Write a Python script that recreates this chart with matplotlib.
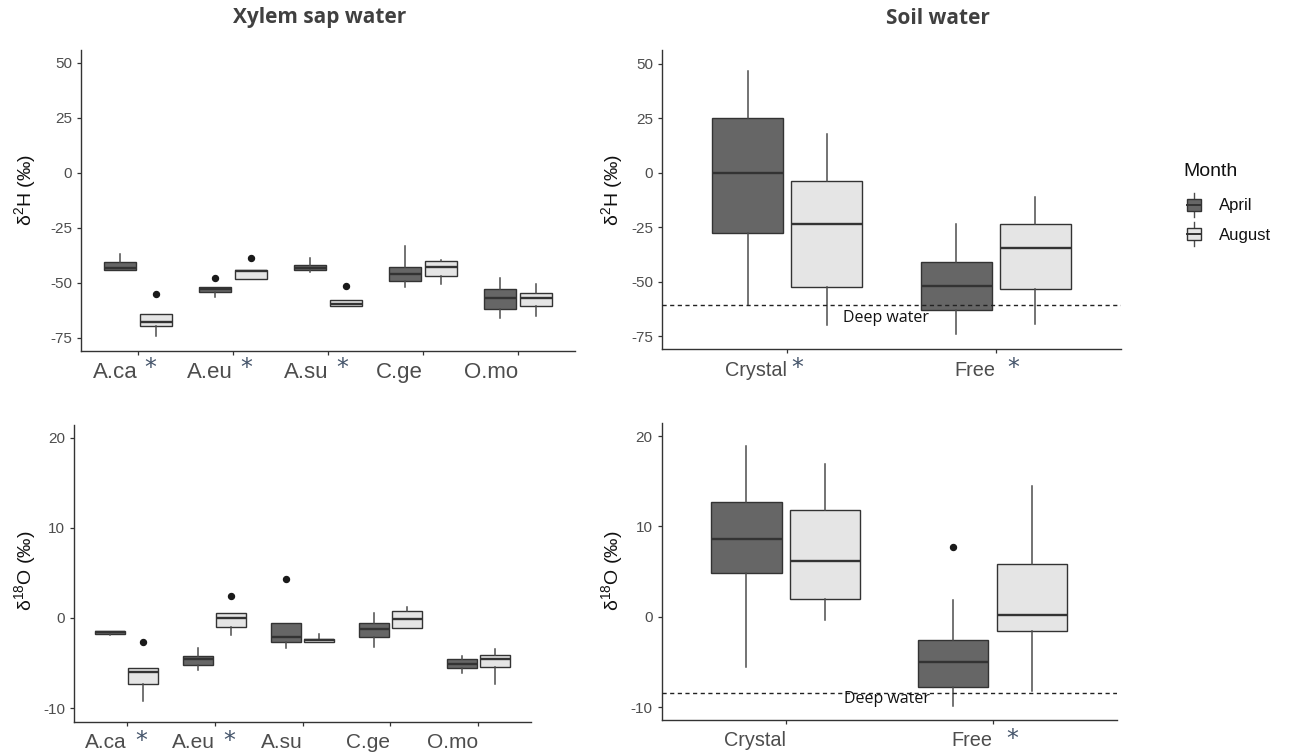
import numpy as np
import matplotlib
matplotlib.use('Agg')
import matplotlib.pyplot as plt
from matplotlib.legend_handler import HandlerBase
from matplotlib.patches import Rectangle, Patch
from matplotlib.lines import Line2D

plt.rcParams['font.family'] = ['Liberation Sans', 'DejaVu Sans']
plt.rcParams['mathtext.fontset'] = 'custom'
plt.rcParams['mathtext.rm'] = 'Liberation Sans'
plt.rcParams['mathtext.it'] = 'Liberation Sans:italic'
plt.rcParams['mathtext.bf'] = 'Liberation Sans:bold'

# ---------------- data ----------------
species = ['A.ca', 'A.eu', 'A.su', 'C.ge', 'O.mo']
sites = ['Crystal', 'Free']
months = ['April', 'August']

# Xylem sap water, d2H
xyl_H_apr_med = [-43.5, -53.0, -43.2, -46.2, -57.0]
xyl_H_apr_q1 = [-44.4, -54.2, -44.4, -49.1, -62.1]
xyl_H_apr_q3 = [-40.5, -51.8, -42.1, -42.7, -53.0]
xyl_H_apr_lo = [-44.4, -56.5, -45.2, -52.1, -66.0]
xyl_H_apr_hi = [-36.8, -51.8, -38.9, -33.5, -48.0]
xyl_H_apr_out = [[], [-47.6], [], [], []]

xyl_H_aug_med = [-67.9, -44.5, -59.5, -43.0, -57.0]
xyl_H_aug_q1 = [-69.8, -48.2, -60.6, -47.1, -60.6]
xyl_H_aug_q3 = [-64.4, -44.2, -57.6, -40.0, -54.5]
xyl_H_aug_lo = [-74.2, -48.2, -60.6, -50.6, -65.2]
xyl_H_aug_hi = [-64.4, -44.2, -57.6, -39.5, -50.6]
xyl_H_aug_out = [[-55.3], [-38.9], [-51.5], [], []]

# Xylem sap water, d18O
xyl_O_apr_med = [-1.55, -4.58, -2.14, -1.25, -5.06]
xyl_O_apr_q1 = [-1.73, -5.24, -2.62, -2.10, -5.57]
xyl_O_apr_q3 = [-1.40, -4.17, -0.52, -0.55, -4.58]
xyl_O_apr_lo = [-1.90, -5.76, -3.32, -3.17, -6.05]
xyl_O_apr_hi = [-1.40, -3.28, -0.52, 0.52, -4.17]
xyl_O_apr_out = [[], [], [4.28], [], []]

xyl_O_aug_med = [-6.00, -0.04, -2.47, -0.07, -4.58]
xyl_O_aug_q1 = [-7.31, -0.96, -2.62, -1.07, -5.46]
xyl_O_aug_q3 = [-5.57, 0.52, -2.36, 0.77, -4.13]
xyl_O_aug_lo = [-9.26, -1.88, -2.62, -1.07, -7.31]
xyl_O_aug_hi = [-5.57, 0.52, -1.81, 1.18, -3.47]
xyl_O_aug_out = [[-2.62], [2.44], [], [], []]

# Soil water, d2H
soil_H_apr_med = [-0.2, -51.8]
soil_H_apr_q1 = [-27.7, -62.9]
soil_H_apr_q3 = [25.0, -41.0]
soil_H_apr_lo = [-60.6, -74.3]
soil_H_apr_hi = [46.7, -23.6]
soil_H_apr_out = [[], []]

soil_H_aug_med = [-23.4, -34.5]
soil_H_aug_q1 = [-52.5, -53.6]
soil_H_aug_q3 = [-3.8, -23.7]
soil_H_aug_lo = [-69.8, -69.5]
soil_H_aug_hi = [17.9, -11.2]
soil_H_aug_out = [[], []]

# Soil water, d18O
soil_O_apr_med = [8.56, -5.02]
soil_O_apr_q1 = [4.83, -7.82]
soil_O_apr_q3 = [12.66, -2.58]
soil_O_apr_lo = [-5.61, -9.89]
soil_O_apr_hi = [18.93, 1.85]
soil_O_apr_out = [[], [7.68]]

soil_O_aug_med = [6.20, 0.18]
soil_O_aug_q1 = [1.96, -1.55]
soil_O_aug_q3 = [11.88, 5.83]
soil_O_aug_lo = [-0.37, -8.19]
soil_O_aug_hi = [16.97, 14.46]
soil_O_aug_out = [[], []]

deep_water_H = -60.6
deep_water_O = -8.45

H_ticks = [-75, -50, -25, 0, 25, 50]
O_ticks = [-10, 0, 10, 20]

# significance stars per panel (category index)
stars_xyl_H = [0, 1, 2]
stars_xyl_O = [0, 1]
stars_soil_H = [0, 1]
stars_soil_O = [1]

# ---------------- style ----------------
APR = '#666666'
AUG = '#e5e5e5'
EDGE = '#333333'
WHISK = '#4d4d4d'
STAR = '#44546a'
TICKC = '#4d4d4d'

W, H = 1290, 754
fig = plt.figure(figsize=(W / 100, H / 100), dpi=100)


def add_ax(l, t, r, b):
    return fig.add_axes([l / W, 1 - b / H, (r - l) / W, (b - t) / H])


def mkstats(med, q1, q3, lo, hi, out):
    return [dict(med=m, q1=a, q3=b, whislo=c, whishi=d, fliers=f)
            for m, a, b, c, d, f in zip(med, q1, q3, lo, hi, out)]


def draw(ax, cats, apr, aug, ylim, yticks, stars, star_dx, xsize, star_dy):
    pos = np.arange(1, len(cats) + 1)
    for st, off, fc in ((apr, -0.19, APR), (aug, 0.19, AUG)):
        ax.bxp(st, positions=pos + off, widths=0.34, patch_artist=True,
               showcaps=False, manage_ticks=False,
               boxprops=dict(facecolor=fc, edgecolor=EDGE, linewidth=1.0),
               medianprops=dict(color=EDGE, linewidth=1.7),
               whiskerprops=dict(color=WHISK, linewidth=1.1),
               flierprops=dict(marker='o', markerfacecolor='#1a1a1a',
                               markeredgecolor='#1a1a1a', markersize=4.3))
    ax.set_xlim(0.4, len(cats) + 0.6)
    ax.set_ylim(*ylim)
    ax.set_yticks(yticks)
    ax.set_yticklabels([str(t) for t in yticks])
    ax.set_xticks(pos)
    ax.set_xticklabels(cats, ha='right')
    for s in ('top', 'right'):
        ax.spines[s].set_visible(False)
    for s in ('left', 'bottom'):
        ax.spines[s].set_color(EDGE)
        ax.spines[s].set_linewidth(1.0)
    ax.tick_params(axis='both', direction='out', length=2.9, width=0.9,
                   color=EDGE, labelcolor=TICKC)
    ax.tick_params(axis='y', labelsize=11, pad=3.6)
    ax.tick_params(axis='x', labelsize=xsize, pad=5.2)
    for i, dx in zip(stars, star_dx):
        ax.annotate('*', xy=(pos[i], 0), xycoords=('data', 'axes fraction'),
                    xytext=(dx * 0.72, -star_dy * 0.72), textcoords='offset points',
                    ha='center', va='baseline', color=STAR, fontsize=17,
                    family='DejaVu Sans')


ax1 = add_ax(81, 50, 575, 351)
draw(ax1, species,
     mkstats(xyl_H_apr_med, xyl_H_apr_q1, xyl_H_apr_q3, xyl_H_apr_lo, xyl_H_apr_hi, xyl_H_apr_out),
     mkstats(xyl_H_aug_med, xyl_H_aug_q1, xyl_H_aug_q3, xyl_H_aug_lo, xyl_H_aug_hi, xyl_H_aug_out),
     (-81, 55.8), H_ticks, stars_xyl_H, [12.3, 13.5, 14.0], 16, 24)

ax2 = add_ax(74, 425, 531, 721.7)
draw(ax2, species,
     mkstats(xyl_O_apr_med, xyl_O_apr_q1, xyl_O_apr_q3, xyl_O_apr_lo, xyl_O_apr_hi, xyl_O_apr_out),
     mkstats(xyl_O_aug_med, xyl_O_aug_q1, xyl_O_aug_q3, xyl_O_aug_lo, xyl_O_aug_hi, xyl_O_aug_out),
     (-11.5, 21.4), O_ticks, stars_xyl_O, [14.3, 14.4], 15, 26)

ax3 = add_ax(662, 50, 1121, 349.3)
draw(ax3, sites,
     mkstats(soil_H_apr_med, soil_H_apr_q1, soil_H_apr_q3, soil_H_apr_lo, soil_H_apr_hi, soil_H_apr_out),
     mkstats(soil_H_aug_med, soil_H_aug_q1, soil_H_aug_q3, soil_H_aug_lo, soil_H_aug_hi, soil_H_aug_out),
     (-81.1, 56.4), H_ticks, stars_soil_H, [10.3, 17.0], 14.3, 26)
ax3.axhline(deep_water_H, color='#222222', linestyle=(0, (3, 2.5)), linewidth=1.0, zorder=5)
ax3.text(1.475, -66.5, 'Deep water', ha='center', va='center', fontsize=11.5,
         family='Open Sans', color='#111111', zorder=6)

ax4 = add_ax(661.7, 422.7, 1116.7, 720)
draw(ax4, sites,
     mkstats(soil_O_apr_med, soil_O_apr_q1, soil_O_apr_q3, soil_O_apr_lo, soil_O_apr_hi, soil_O_apr_out),
     mkstats(soil_O_aug_med, soil_O_aug_q1, soil_O_aug_q3, soil_O_aug_lo, soil_O_aug_hi, soil_O_aug_out),
     (-11.44, 21.5), O_ticks, stars_soil_O, [20.0], 14.3, 26)
ax4.axhline(deep_water_O, color='#222222', linestyle=(0, (3, 2.5)), linewidth=1.0, zorder=5)
ax4.text(1.487, -9.15, 'Deep water', ha='center', va='center', fontsize=11.5,
         family='Open Sans', color='#111111', zorder=6)

# y labels
lab_H = 'δ$^{2}$H (‰)'
lab_O = 'δ$^{18}$O (‰)'
for (x, y, s) in ((25, 190, lab_H), (25, 571, lab_O), (612, 190, lab_H), (612, 571, lab_O)):
    fig.text(x / W, 1 - y / H, s, rotation=90, ha='center', va='center',
             fontsize=14, color='#111111')

# panel titles
fig.text(320 / W, 1 - 18 / H, 'Xylem sap water', ha='center', va='center',
         fontsize=15, fontweight='bold', family='Open Sans', color='#404040')
fig.text(937.5 / W, 1 - 18 / H, 'Soil water', ha='center', va='center',
         fontsize=15, fontweight='bold', family='Open Sans', color='#404040')


# legend
class BoxKey(HandlerBase):
    def create_artists(self, legend, orig, xd, yd, w, h, fs, trans):
        x0, y0 = -xd, -yd
        fc = orig.get_facecolor()
        cx = x0 + w / 2
        wl = Line2D([cx, cx], [y0, y0 + h], color=WHISK, lw=1.0, transform=trans)
        r = Rectangle((x0, y0 + 0.25 * h), w, 0.5 * h, facecolor=fc,
                      edgecolor=EDGE, lw=1.0, transform=trans)
        m = Line2D([x0, x0 + w], [y0 + 0.5 * h, y0 + 0.5 * h], color=EDGE,
                   lw=1.4, transform=trans)
        return [wl, r, m]


fig.text(1183 / W, 1 - 171 / H, 'Month', ha='left', va='center',
         fontsize=14, color='#111111')
handles = [Patch(facecolor=APR, label=months[0]), Patch(facecolor=AUG, label=months[1])]
leg = fig.legend(handles=handles, labels=months,
                 handler_map={Patch: BoxKey()}, loc='upper left',
                 bbox_to_anchor=(1187 / W, 1 - 193 / H), frameon=False,
                 fontsize=12, handlelength=0.82,
                 handleheight=1.8, handletextpad=1.1, labelspacing=0.35,
                 borderpad=0, borderaxespad=0)
for t in leg.get_texts():
    t.set_color('#111111')

fig.savefig('out.png', dpi=100)
